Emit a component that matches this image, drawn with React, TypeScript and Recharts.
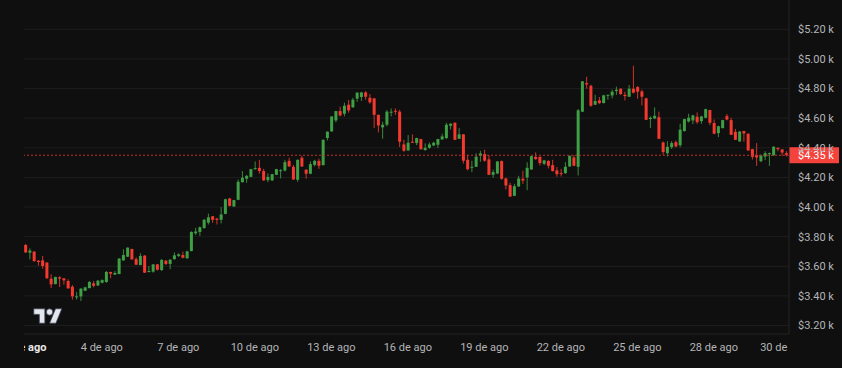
import { ComposedChart, Bar, XAxis, YAxis, CartesianGrid, ReferenceLine } from 'recharts'

const opens = [
    3744, 3692, 3699, 3638, 3640, 3625, 3516, 3480, 3525, 3519, 3501, 3462, 3390, 3397, 3435, 3453, 3485, 3471, 3489, 3494,
    3562, 3544, 3548, 3640, 3665, 3717, 3649, 3609, 3672, 3562, 3564, 3613, 3575, 3638, 3616, 3649, 3670, 3676, 3654, 3703,
    3823, 3832, 3859, 3895, 3938, 3922, 3914, 3954, 4058, 4004, 4049, 4168, 4191, 4204, 4256, 4265, 4243, 4182, 4180, 4218,
    4245, 4247, 4312, 4272, 4184, 4333, 4252, 4225, 4285, 4312, 4283, 4466, 4511, 4585, 4648, 4630, 4691, 4673, 4732, 4743,
    4774, 4738, 4734, 4623, 4538, 4556, 4637, 4650, 4644, 4423, 4382, 4441, 4432, 4459, 4385, 4400, 4416, 4421, 4457, 4466,
    4549, 4569, 4461, 4491, 4319, 4267, 4272, 4346, 4358, 4322, 4218, 4227, 4310, 4193, 4148, 4076, 4139, 4191, 4200, 4254,
    4339, 4339, 4292, 4312, 4283, 4247, 4229, 4229, 4274, 4335, 4272, 4644, 4837, 4819, 4691, 4720, 4702, 4752, 4754, 4783,
    4799, 4758, 4745, 4799, 4810, 4781, 4734, 4594, 4598, 4607, 4436, 4364, 4404, 4438, 4418, 4513, 4578, 4585, 4610, 4580,
    4603, 4655, 4567, 4499, 4533, 4614, 4587, 4508, 4443, 4513, 4495, 4391, 4350, 4310, 4341, 4357, 4350, 4400, 4389, 4364,
]
const highs = [
    3751, 3721, 3703, 3643, 3670, 3629, 3546, 3530, 3534, 3519, 3512, 3474, 3426, 3453, 3462, 3501, 3501, 3507, 3512, 3568,
    3563, 3568, 3656, 3715, 3728, 3719, 3661, 3688, 3676, 3602, 3616, 3616, 3649, 3643, 3647, 3694, 3688, 3699, 3706, 3836,
    3859, 3868, 3920, 3956, 3938, 3927, 3999, 4056, 4062, 4049, 4186, 4243, 4216, 4258, 4308, 4319, 4258, 4227, 4224, 4258,
    4256, 4319, 4333, 4285, 4321, 4346, 4256, 4308, 4319, 4326, 4457, 4511, 4612, 4650, 4678, 4705, 4723, 4738, 4777, 4777,
    4783, 4763, 4734, 4623, 4576, 4655, 4666, 4666, 4657, 4454, 4486, 4491, 4468, 4461, 4430, 4436, 4441, 4461, 4495, 4569,
    4565, 4572, 4533, 4493, 4353, 4313, 4362, 4380, 4387, 4351, 4252, 4310, 4315, 4198, 4164, 4157, 4211, 4245, 4303, 4346,
    4369, 4342, 4319, 4315, 4319, 4270, 4258, 4303, 4348, 4351, 4662, 4851, 4880, 4826, 4758, 4743, 4758, 4758, 4792, 4813,
    4801, 4779, 4824, 4954, 4817, 4792, 4738, 4612, 4673, 4644, 4443, 4445, 4445, 4450, 4562, 4596, 4630, 4623, 4639, 4616,
    4664, 4657, 4591, 4549, 4589, 4628, 4603, 4528, 4513, 4515, 4497, 4393, 4432, 4355, 4377, 4368, 4411, 4402, 4391, 4377,
]
const lows = [
    3690, 3647, 3629, 3604, 3584, 3516, 3453, 3478, 3460, 3476, 3449, 3375, 3375, 3366, 3433, 3451, 3458, 3467, 3485, 3489,
    3519, 3541, 3546, 3638, 3663, 3645, 3609, 3607, 3555, 3559, 3557, 3571, 3568, 3609, 3580, 3643, 3663, 3654, 3652, 3701,
    3812, 3805, 3853, 3882, 3893, 3882, 3889, 3952, 4004, 4001, 4047, 4166, 4164, 4202, 4252, 4225, 4177, 4168, 4177, 4216,
    4193, 4240, 4272, 4184, 4171, 4272, 4191, 4222, 4274, 4258, 4281, 4450, 4509, 4572, 4612, 4612, 4637, 4671, 4711, 4716,
    4725, 4698, 4533, 4504, 4461, 4545, 4612, 4623, 4405, 4373, 4380, 4432, 4418, 4387, 4380, 4394, 4412, 4400, 4454, 4459,
    4524, 4452, 4459, 4294, 4247, 4236, 4270, 4306, 4306, 4216, 4198, 4222, 4184, 4119, 4069, 4074, 4137, 4157, 4114, 4252,
    4319, 4281, 4283, 4261, 4240, 4204, 4206, 4224, 4272, 4276, 4213, 4641, 4799, 4677, 4689, 4695, 4700, 4725, 4734, 4758,
    4756, 4720, 4743, 4767, 4731, 4686, 4587, 4533, 4594, 4459, 4353, 4341, 4393, 4404, 4404, 4510, 4571, 4560, 4562, 4562,
    4600, 4553, 4492, 4472, 4531, 4585, 4486, 4452, 4441, 4441, 4380, 4321, 4278, 4303, 4317, 4278, 4346, 4377, 4346, 4341,
]
const closes = [
    3694, 3706, 3636, 3629, 3602, 3519, 3478, 3528, 3516, 3505, 3451, 3397, 3397, 3449, 3458, 3494, 3469, 3503, 3507, 3562,
    3550, 3555, 3652, 3676, 3726, 3647, 3611, 3670, 3557, 3568, 3613, 3577, 3643, 3616, 3645, 3674, 3681, 3658, 3701, 3832,
    3835, 3864, 3914, 3931, 3914, 3914, 3950, 4053, 4008, 4047, 4171, 4198, 4211, 4256, 4263, 4243, 4180, 4204, 4222, 4256,
    4249, 4303, 4274, 4186, 4319, 4274, 4225, 4290, 4312, 4279, 4454, 4509, 4612, 4648, 4619, 4684, 4653, 4725, 4772, 4774,
    4745, 4707, 4623, 4551, 4556, 4644, 4644, 4644, 4441, 4380, 4434, 4436, 4466, 4391, 4400, 4423, 4434, 4459, 4477, 4556,
    4563, 4454, 4491, 4313, 4256, 4272, 4340, 4362, 4313, 4218, 4236, 4308, 4191, 4146, 4071, 4141, 4193, 4179, 4265, 4344,
    4324, 4297, 4315, 4279, 4243, 4222, 4224, 4272, 4346, 4279, 4653, 4849, 4828, 4684, 4716, 4702, 4754, 4758, 4779, 4792,
    4763, 4749, 4799, 4772, 4779, 4745, 4589, 4603, 4616, 4461, 4371, 4407, 4432, 4409, 4522, 4594, 4603, 4619, 4573, 4612,
    4661, 4569, 4495, 4546, 4587, 4591, 4488, 4454, 4510, 4497, 4382, 4339, 4335, 4348, 4364, 4364, 4407, 4391, 4368, 4353,
]

const priceTicks = [3200, 3400, 3600, 3800, 4000, 4200, 4400, 4600, 4800, 5000, 5200]
const dateTicks = [0, 18, 36, 54, 72, 90, 108, 126, 144, 162, 178.6]
const dateLabels = ['1 de ago', '4 de ago', '7 de ago', '10 de ago', '13 de ago', '16 de ago', '19 de ago', '22 de ago', '25 de ago', '28 de ago', '30 de ago']
const lastPrice = 4350

const W = 842
const H = 368
const PLOT_LEFT = 24
const PLOT_RIGHT = 789
const PLOT_BOTTOM = 334
const BG = '#0f0f0f'
const UP = '#3f9f45'
const DOWN = '#f5392f'
const TEXT = '#b4b5b8'
const FONT = 'Roboto, sans-serif'

const rows = opens.map((open, i) => ({
    i,
    open,
    high: highs[i],
    low: lows[i],
    close: closes[i],
    range: [lows[i], highs[i]],
}))

function Candle(props: any) {
    const { x, y, width, height, payload } = props
    const color = payload.close >= payload.open ? UP : DOWN
    const k = height / (payload.high - payload.low)
    const bodyTop = y + (payload.high - Math.max(payload.open, payload.close)) * k
    const bodyH = Math.max(Math.abs(payload.open - payload.close) * k, 1)
    const mid = x + width / 2
    return (
        <g>
            <line x1={mid} x2={mid} y1={y} y2={y + height} stroke={color} strokeWidth={1} strokeOpacity={0.85} />
            <rect x={x} y={bodyTop} width={width} height={bodyH} fill={color} />
        </g>
    )
}

function DateTick(props: any) {
    const { x, y, index } = props
    const first = index === 0
    return (
        <g clipPath="url(#dateClip)">
            <text
                x={x}
                y={y}
                textAnchor="middle"
                fontFamily={FONT}
                fontSize={11}
                fontWeight={first ? 700 : 400}
                fill={first ? '#e8e8e8' : TEXT}
            >
                {dateLabels[index]}
            </text>
        </g>
    )
}

function LastPriceTag(props: any) {
    const { viewBox } = props
    const left = viewBox.x + viewBox.width
    const mid = viewBox.y
    return (
        <g>
            <rect x={left} y={mid - 8} width={50} height={16} fill="#f4433c" />
            <text x={left + 9} y={mid + 4} fontFamily={FONT} fontSize={11} fill="#ffffff">
                {`$${(lastPrice / 1000).toFixed(2)} k`}
            </text>
        </g>
    )
}

export default function App() {
    return (
        <div style={{ position: 'absolute', left: 0, top: 0, width: W, height: H, background: BG, overflow: 'hidden' }}>
            <ComposedChart
                width={W}
                height={H}
                data={rows}
                margin={{ top: 0, right: 0, bottom: 0, left: PLOT_LEFT }}
                barCategoryGap={0}
            >
                <defs>
                    <clipPath id="dateClip">
                        <rect x={PLOT_LEFT} y={PLOT_BOTTOM} width={PLOT_RIGHT - PLOT_LEFT} height={H - PLOT_BOTTOM} />
                    </clipPath>
                </defs>
                <CartesianGrid vertical={false} stroke="#1e1e1e" syncWithTicks />
                <XAxis
                    dataKey="i"
                    type="number"
                    domain={[-0.3, 179.7]}
                    ticks={dateTicks}
                    interval={0}
                    tick={<DateTick />}
                    tickLine={false}
                    axisLine={{ stroke: '#242424' }}
                    height={H - PLOT_BOTTOM}
                    tickMargin={11}
                    padding={{ left: 0, right: 0 }}
                    allowDataOverflow
                />
                <YAxis
                    orientation="right"
                    width={W - PLOT_RIGHT}
                    domain={[3143, 5398]}
                    ticks={priceTicks}
                    interval={0}
                    allowDataOverflow
                    tickLine={false}
                    axisLine={{ stroke: '#242424' }}
                    tick={{ fill: TEXT, fontSize: 11, fontFamily: FONT }}
                    tickMargin={3}
                    tickFormatter={(v: number) => `$${(v / 1000).toFixed(2)} k`}
                />
                <Bar dataKey="range" barSize={3} shape={<Candle />} isAnimationActive={false} />
                <ReferenceLine
                    y={lastPrice}
                    stroke="#c2342c"
                    strokeDasharray="2 2"
                    label={<LastPriceTag />}
                />
            </ComposedChart>
            <svg
                width={30}
                height={16}
                viewBox="-1 3 38 20"
                preserveAspectRatio="none"
                style={{ position: 'absolute', left: 33, top: 308 }}
            >
                <path d="M14 22H7V11H0V4h14v18zM28 22h-8l7.5-18h8L28 22z" fill="#e4e6ee" stroke="#3c4054" strokeWidth={1} />
                <circle cx={20} cy={8} r={4} fill="#e4e6ee" stroke="#3c4054" strokeWidth={1} />
            </svg>
        </div>
    )
}
